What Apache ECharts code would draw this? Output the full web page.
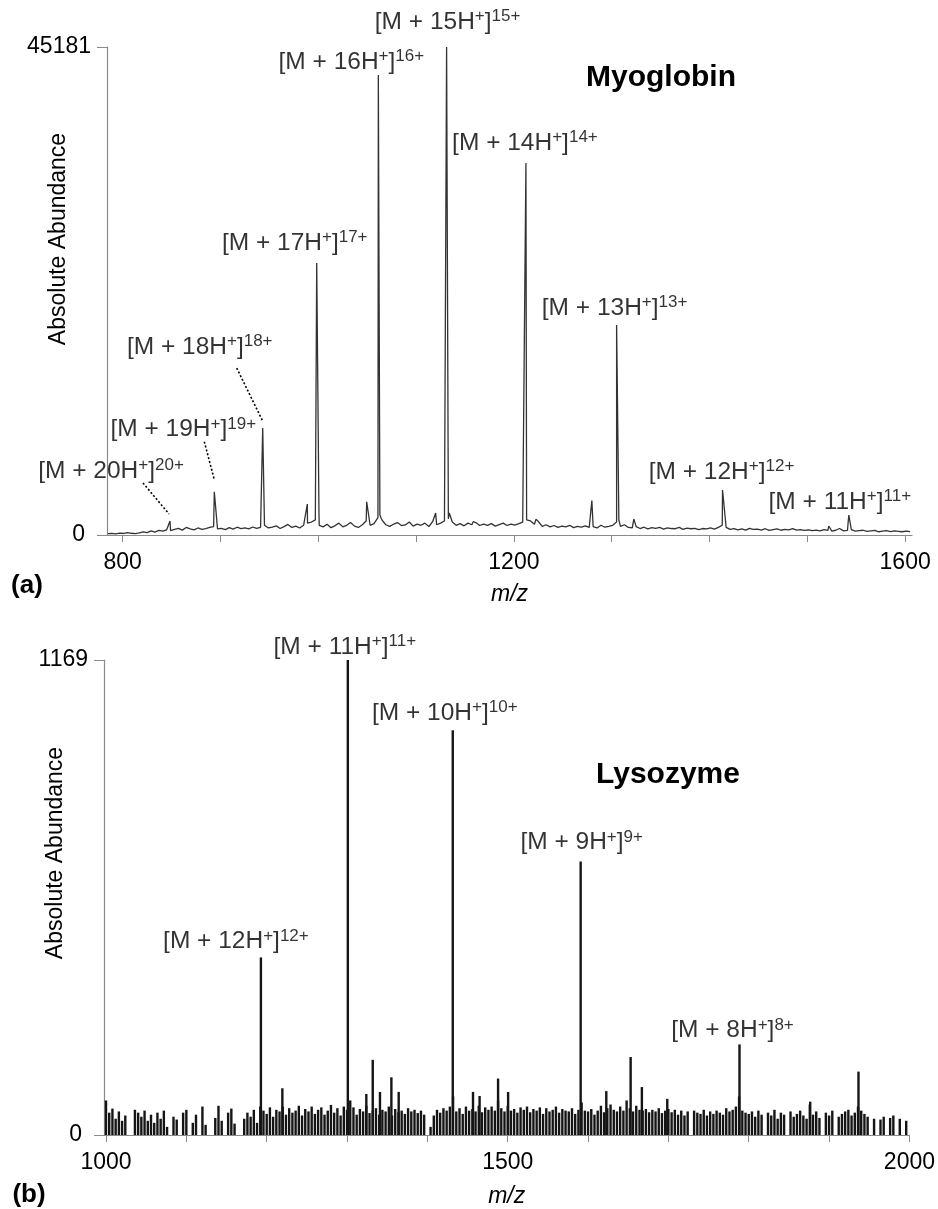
<!DOCTYPE html>
<html lang="en">
<head>
<meta charset="UTF-8">
<script src="https://cdn.jsdelivr.net/npm/echarts@6/dist/echarts.min.js"></script>
<title>Myoglobin / Lysozyme spectra</title>
<style>
  body { margin: 0; background: #fff; }
  #main { width: 938px; height: 1209px; }
</style>
</head>
<body>
<div id="main"></div>
<script>
// ---------- (a) myoglobin ----------
var ionChargeA = [20, 19, 18, 17, 16, 15, 14, 13, 12, 11];
var ionMzA = [848.4, 893.7, 943.2, 998.4, 1061.4, 1131.2, 1212.3, 1305.0, 1413.3, 1542.4];
var ionAbundA = [1300, 4010, 9900, 25180, 42590, 45181, 34440, 19440, 4170, 1850];
var minorMzA = [988.8, 1000.7, 1049.5, 1063.0, 1120.0, 1133.9, 1158.4, 1214.6, 1222.5, 1279.7, 1307.3, 1322.6, 1444.6, 1521.9];
var minorAbundA = [2870, 2000, 3080, 1850, 2040, 2040, 1230, 1480, 1450, 3180, 1390, 1480, 530, 830];
// baseline, one value every 4 m/z starting at 785
var noiseStartA = 785, noiseStepA = 4;
var noiseA = [
  120, 150, 100, 180, 140, 220, 160, 130, 200,
  300, 220, 380, 260, 420, 350, 480, 400,
  520, 610, 450, 700, 560, 480, 650, 520, 600, 700,
  780, 560, 620, 500, 680, 550, 720, 600, 650, 560, 740, 620, 700,
  900, 650, 720, 850, 600, 780, 980, 700, 820, 650, 900, 1100,
  1200, 1400, 900, 750, 1000, 680, 850, 1100, 760, 900, 1150, 820, 700, 950, 1300,
  900, 1050, 1600, 1400, 950, 800, 1000, 1150, 870, 930, 1200, 820, 1000, 900, 1100, 780, 1250, 950, 1100, 1300,
  1500, 1200, 900, 1050, 850, 1100, 950, 1150, 880, 1000, 900, 1050, 820, 960, 1100, 880, 1000, 920, 1050, 1200,
  1400, 1300, 1000, 1250, 800, 950, 750, 880, 700, 820, 760, 900, 680, 800, 720, 850, 700, 780, 650, 900, 720, 800,
  900, 1200, 800, 950, 700, 650, 780, 600, 720, 560, 680, 620, 700, 540, 650, 600, 580, 700, 520, 640, 580, 620, 500, 600, 560, 650, 540, 700,
  900, 700, 520, 600, 480, 560, 450, 620, 500, 540, 460, 580, 420, 500, 560, 440, 520, 480, 600, 460, 500, 420,
  480, 400, 450, 380, 500, 420, 360, 440, 600, 380, 420, 500, 360, 400, 440, 330, 380, 420, 300, 360, 400, 320, 380, 340, 300, 360, 320
];
var xTicksA = [800, 900, 1000, 1100, 1200, 1300, 1400, 1500, 1600];
var xLabelsA = [800, 1200, 1600];
var yMaxA = 45181;

// ---------- (b) lysozyme ----------
var ionChargeB = [12, 11, 10, 9, 8];
var ionMzB = [1192.8, 1301.0, 1431.6, 1590.8, 1788.5];
var ionAbundB = [437, 1169, 996, 673, 223];
var minorMzB = [1219.5, 1324.0, 1332.0, 1341.0, 1355.2, 1364.3, 1456.8, 1465.0, 1488.0, 1500.5, 1622.7, 1653.0, 1667.0, 1698.6, 1876.5, 1936.6];
var minorAbundB = [115, 101, 185, 106, 142, 106, 106, 96, 139, 106, 108, 192, 118, 89, 82, 156];
// baseline sticks, one value every 4 m/z starting at 1000 (rows of 40 m/z)
var noiseStartB = 1000, noiseStepB = 4;
var noiseB = [
  85, 55, 65, 40, 58, 35, 48, 0, 0, 62,
  55, 45, 60, 35, 50, 30, 55, 40, 60, 20,
  0, 45, 38, 0, 55, 62, 0, 30, 50, 0,
  70, 25, 0, 0, 42, 72, 35, 0, 55, 65,
  28, 0, 0, 40, 55, 45, 62, 30, 70, 60,
  52, 68, 45, 62, 58, 70, 50, 66, 55, 60,
  72, 48, 64, 58, 70, 52, 62, 68, 50, 60,
  74, 55, 66, 48, 70, 62, 85, 68, 50, 64,
  58, 72, 54, 60, 66, 50, 62, 58, 70, 48,
  64, 56, 60, 52, 66, 58, 62, 54, 60, 50,
  0, 20, 48, 62, 55, 66, 60, 70, 95, 58,
  66, 52, 70, 60, 64, 58, 72, 56, 68, 62,
  70, 60, 85, 66, 58, 72, 60, 64, 55, 68,
  62, 70, 56, 64, 60, 68, 52, 66, 58, 62,
  70, 55, 64, 60, 58, 66, 52, 62, 80, 60,
  58, 64, 50, 60, 72, 56, 66, 75, 62, 58,
  70, 60, 85, 66, 58, 72, 62, 60, 64, 56,
  62, 58, 66, 54, 60, 64, 56, 62, 50, 60,
  48, 58, 0, 60, 55, 52, 62, 48, 58, 52,
  60, 55, 50, 66, 58, 62, 70, 95, 60, 55,
  52, 58, 45, 60, 50, 0, 55, 48, 62, 40,
  55, 50, 0, 58, 45, 52, 60, 48, 40, 75,
  50, 58, 42, 0, 55, 48, 60, 0, 45, 52,
  58, 62, 48, 55, 70, 60, 52, 45, 0, 40,
  0, 38, 45, 0, 42, 48, 0, 40, 0, 35
];
var xTicksB = [1000, 1100, 1200, 1300, 1400, 1500, 1600, 1700, 1800, 1900, 2000];
var xLabelsB = [1000, 1500, 2000];
var yMaxB = 1169;

// ---------- layout (pixels) ----------
var FONT = 'Liberation Sans';
// label centre relative to the peak top, px
var labelOffA = [[-59, -50], [-31, -62], [-63, -81], [-22, -20], [-27, -13], [1, -25], [-1, -20], [-2, -17], [-1, -18], [-9, -13]];
var labelOffB = [[-25, -16], [-3, -13], [-8, -17], [1, -19], [-7, -14]];
// dotted leaders for the small myoglobin ions: [charge, start dx, dy, end dx, dy]
var leadersA = [[20, -27, -38, -1, -7], [19, -10, -50, 0, -12], [18, -26, -60, 0, -7]];

function pairs(xs, ys) { return xs.map(function (x, i) { return [x, ys[i]]; }); }
function sampled(start, step, vals) { return vals.map(function (v, i) { return [start + i * step, v]; }); }
function merged() {
  var all = [];
  for (var i = 0; i < arguments.length; i++) all = all.concat(arguments[i]);
  return all.sort(function (a, b) { return a[0] - b[0]; });
}

var spectrumA = merged(sampled(noiseStartA, noiseStepA, noiseA), pairs(ionMzA, ionAbundA), pairs(minorMzA, minorAbundA));
var spectrumB = merged(sampled(noiseStartB, noiseStepB, noiseB), pairs(ionMzB, ionAbundB), pairs(minorMzB, minorAbundB));

var rich = {
  m: { fontFamily: FONT, fontSize: 24.5, color: '#000', lineHeight: 28 },
  s: { fontFamily: FONT, fontSize: 17, color: '#000', lineHeight: 17, verticalAlign: 'top' }
};
function ionLabel(z) { return '{m|[M + ' + z + 'H}{s|+}{m|]}{s|' + z + '+}'; }

function ionSeries(idx, charges, mz, ab, offs) {
  return {
    type: 'scatter', xAxisIndex: idx, yAxisIndex: idx, symbolSize: 0, silent: true,
    data: charges.map(function (z, i) {
      return { value: [mz[i], ab[i]], name: String(z), label: { offset: offs[i] } };
    }),
    label: {
      show: true, position: 'inside',
      formatter: function (p) { return ionLabel(p.name); },
      rich: rich
    }
  };
}

function xAxisOpt(idx, min, max, ticks, labels, gap) {
  return {
    type: 'value', gridIndex: idx, min: min, max: max,
    axisLine: { lineStyle: { color: '#8a8a8a', width: 1.2 } },
    axisTick: { customValues: ticks, length: 7, lineStyle: { color: '#8a8a8a' } },
    axisLabel: {
      customValues: labels, margin: 16, fontFamily: FONT, fontSize: 23, color: '#000',
      formatter: function (v) { return String(v); }
    },
    splitLine: { show: false },
    name: 'm/z', nameLocation: 'middle', nameGap: gap,
    nameTextStyle: { fontFamily: FONT, fontSize: 23, fontStyle: 'italic', color: '#000' }
  };
}
function yAxisOpt(idx, max) {
  return {
    type: 'value', gridIndex: idx, min: 0, max: max,
    axisLine: { show: true, lineStyle: { color: '#8a8a8a', width: 1.2 } },
    axisTick: { show: true, customValues: [0, max], length: 10, lineStyle: { color: '#8a8a8a' } },
    axisLabel: {
      customValues: [0, max], margin: 16, fontFamily: FONT, fontSize: 23, color: '#000',
      formatter: function (v) { return v === 0 ? '{z|0}' : String(v); },
      rich: { z: { fontFamily: FONT, fontSize: 23, color: '#000', padding: [0, 6, 0, 0] } }
    },
    splitLine: { show: false }
  };
}

var chart = echarts.init(document.getElementById('main'), null, { renderer: 'canvas' });
chart.setOption({
  animation: false,
  backgroundColor: '#fff',
  grid: [
    { left: 107, top: 47, width: 805, height: 488 },
    { left: 104, top: 660, width: 806, height: 487 }
  ],
  xAxis: [
    xAxisOpt(0, 784, 1607, xTicksA, xLabelsA, 48),
    xAxisOpt(1, 997.5, 2000, xTicksB, xLabelsB, 50)
  ],
  yAxis: [yAxisOpt(0, yMaxA), yAxisOpt(1, yMaxB)],
  series: [
    {
      type: 'line', xAxisIndex: 0, yAxisIndex: 0, data: spectrumA,
      showSymbol: false, silent: true,
      lineStyle: { color: '#333', width: 1.3 }
    },
    {
      type: 'custom', xAxisIndex: 1, yAxisIndex: 1, data: spectrumB, silent: true,
      encode: { x: 0, y: 1 },
      renderItem: function (params, api) {
        var p0 = api.coord([api.value(0), 0]);
        var p1 = api.coord([api.value(0), api.value(1)]);
        return {
          type: 'line',
          shape: { x1: p0[0], y1: p0[1], x2: p1[0], y2: p1[1] },
          style: { stroke: '#151515', lineWidth: 2.4 }
        };
      }
    },
    ionSeries(0, ionChargeA, ionMzA, ionAbundA, labelOffA),
    ionSeries(1, ionChargeB, ionMzB, ionAbundB, labelOffB)
  ]
});

// texts and dotted leaders
function txt(x, y, text, font, rot) {
  return {
    type: 'text', x: x, y: y, rotation: rot || 0, silent: true,
    style: { text: text, font: font, fill: '#000', textAlign: 'center', textVerticalAlign: 'middle' }
  };
}
var g = [
  txt(59, 239, 'Absolute Abundance', '23px ' + FONT, Math.PI / 2),
  txt(56, 853, 'Absolute Abundance', '23px ' + FONT, Math.PI / 2),
  txt(661, 78, 'Myoglobin', 'bold 30px ' + FONT),
  txt(668, 775, 'Lysozyme', 'bold 30px ' + FONT),
  txt(27, 586, '(a)', 'bold 26px ' + FONT),
  txt(29, 1195, '(b)', 'bold 26px ' + FONT)
];
leadersA.forEach(function (l) {
  var i = ionChargeA.indexOf(l[0]);
  var p = chart.convertToPixel({ gridIndex: 0 }, [ionMzA[i], ionAbundA[i]]);
  g.push({
    type: 'line', silent: true,
    shape: { x1: p[0] + l[1], y1: p[1] + l[2], x2: p[0] + l[3], y2: p[1] + l[4] },
    style: { stroke: '#000', lineWidth: 1.6, lineDash: [2, 2] }
  });
});
chart.setOption({ graphic: g });
</script>
</body>
</html>
